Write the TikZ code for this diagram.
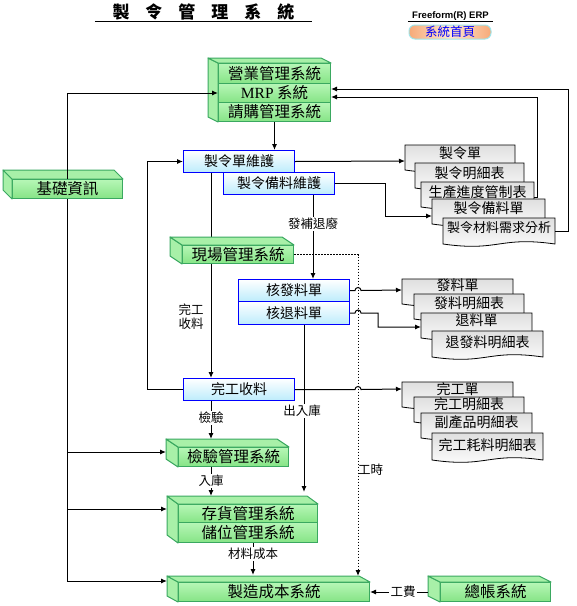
\documentclass[tikz,border=0pt]{standalone}
\usepackage{fontspec}
\setmainfont{Noto Sans CJK TC}
\newfontfamily\serf{Liberation Serif}
\newfontfamily\lsans{Liberation Sans}
\usetikzlibrary{arrows.meta,calc,backgrounds}
\definecolor{gA}{RGB}{182,246,182}
\definecolor{gB}{RGB}{134,228,134}
\definecolor{gS}{RGB}{168,240,168}
\definecolor{gD}{RGB}{58,168,96}
\definecolor{bA}{RGB}{188,236,252}
\definecolor{oA}{RGB}{247,170,120}
\definecolor{oB}{RGB}{255,230,208}
\definecolor{cyB}{RGB}{160,228,232}
\tikzset{
 gface/.style={draw=gD, top color=gA, bottom color=gB, anchor=north west, inner sep=0pt, font=\fontsize{15.5}{17}\selectfont, line width=1pt},
 gside/.style={draw=gD, fill=gS, line width=1pt, line join=round},
 bface/.style={draw=blue, top color=white, bottom color=bA, anchor=north west, inner sep=0pt, font=\fontsize{14}{16}\selectfont, line width=1pt},
 docpath/.style={draw=black, top color=gray!25, bottom color=white, line width=0.8pt},
 doctxt/.style={inner sep=0pt, font=\fontsize{14}{16}\selectfont},
 lbl/.style={fill=white, inner sep=1.5pt, font=\fontsize{12.5}{14}\selectfont},
 conn/.style={line width=1pt, -{Latex[length=6pt,width=5pt]}},
}
\newcommand{\gbevel}[4]{%
 \draw[gside] (#1.north west) -- ++(-#3,-#4) -- ($(#2.south west)+(-#3,-#4)$) -- (#2.south west) -- cycle;
 \draw[gside] (#1.north west) -- ++(-#3,-#4) -- ($(#1.north east)+(-#3,-#4)$) -- (#1.north east) -- cycle;
}
\newcommand{\mkdoc}[7]{%
 \pgfmathsetmacro\dw{#4-#2}%
 \pgfmathsetmacro\db{#3+#5}%
 \pgfmathsetmacro\dm{(#2+#4)/2}%
 \path[docpath] (#2,#3) -- (#4,#3) -- (#4,\db) .. controls (\dm,\db-8) and (\dm,\db+8) .. (#2,\db) -- cycle;
 \node[doctxt, minimum width=\dw pt] (#1) at (\dm,#3+#6) {#7};
}
\begin{document}
\begin{tikzpicture}[x=1pt,y=-1pt]
\useasboundingbox (0,0) rectangle (577,606);
% header
\node[font=\fontsize{17}{20}\selectfont\bfseries, minimum width=217pt, minimum height=18pt, inner sep=0pt] (title) at (203.5,12) {製\hspace{16pt}令\hspace{16pt}管\hspace{16pt}理\hspace{16pt}系\hspace{16pt}統};
\draw[line width=1pt] (title.south west) -- (title.south east);
\node[font=\lsans\bfseries\fontsize{9.5}{11}\selectfont, minimum width=85pt, minimum height=11pt, inner sep=0pt] (ff) at (450.5,16) {Freeform(R) ERP};
\draw[line width=1pt] (ff.south west) -- (ff.south east);
\node[rounded corners=6pt, minimum width=82pt, minimum height=14pt, inner sep=0pt, draw=cyB, line width=1pt, left color=oA, right color=oA, middle color=oB, text=blue, font=\fontsize{12.5}{14}\selectfont] (home) at (450,32) {系統首頁};

% green boxes
\node[gface, minimum width=112pt, minimum height=20pt] (sys1) at (218,63) {營業管理系統};
\node[gface, minimum width=112pt, minimum height=19pt] (mrp) at (218,83) {{\serf MRP} 系統};
\node[gface, minimum width=112pt, minimum height=19pt] (sys3) at (218,102) {請購管理系統};
\gbevel{sys1}{sys3}{10}{5}
\node[gface, minimum width=110pt, minimum height=19pt] (base) at (12,179) {基礎資訊};
\gbevel{base}{base}{9}{9}
\node[gface, minimum width=111pt, minimum height=18pt] (shop) at (182,245) {現場管理系統};
\gbevel{shop}{shop}{12}{8}
\node[gface, minimum width=110pt, minimum height=19pt] (qc) at (178,447) {檢驗管理系統};
\gbevel{qc}{qc}{12}{8}
\node[gface, minimum width=139pt, minimum height=18pt] (inv) at (178,504) {存貨管理系統};
\node[gface, minimum width=139pt, minimum height=20pt] (loc) at (178,522) {儲位管理系統};
\gbevel{inv}{loc}{11}{8}
\node[gface, minimum width=191pt, minimum height=19pt] (cost) at (178,582) {製造成本系統};
\gbevel{cost}{cost}{11}{6}
\node[gface, minimum width=110pt, minimum height=19pt] (gl) at (440,582) {總帳系統};
\gbevel{gl}{gl}{12}{6}

% blue boxes
\node[bface, minimum width=111pt, minimum height=22pt] (wo) at (183,150) {製令單維護};
\node[bface, minimum width=111pt, minimum height=22pt] (wm) at (223,172) {製令備料維護};
\node[bface, minimum width=111pt, minimum height=22pt] (iss) at (238,279) {核發料單};
\node[bface, minimum width=111pt, minimum height=23pt] (ret) at (238,301) {核退料單};
\node[bface, minimum width=111pt, minimum height=22pt] (fin) at (183,378) {完工收料};

% documents
\mkdoc{d1}{405}{145}{515}{25}{8}{製令單}
\mkdoc{d2}{415}{163}{524}{25}{10}{製令明細表}
\mkdoc{d3}{421}{182}{534}{25}{10}{生產進度管制表}
\mkdoc{d4}{432}{199}{545}{25}{9}{製令備料單}
\mkdoc{d5}{443}{218}{555}{26}{10}{{\fontsize{13}{15}\selectfont 製令材料需求分析}}
\mkdoc{e1}{402}{279}{513}{25}{6}{發料單}
\mkdoc{e2}{414}{294}{524}{25}{9}{發料明細表}
\mkdoc{e3}{421}{313}{532}{25}{7}{退料單}
\mkdoc{e4}{432}{331}{543}{26}{11}{退發料明細表}
\mkdoc{f1}{402}{382}{513}{25}{7}{完工單}
\mkdoc{f2}{414}{397}{524}{25}{7}{完工明細表}
\mkdoc{f3}{421}{413}{532}{25}{9}{副產品明細表}
\mkdoc{f4}{432}{433}{543}{27}{12}{完工耗料明細表}

% coordinates
\coordinate (hopc) at (358,0);
\coordinate (dotx) at (358,0);
\coordinate (d1in) at (405,161);
\coordinate (d4in) at (432,216);
\coordinate (d3out) at (534,197);
\coordinate (d5out) at (555,231);
\coordinate (e1in) at (402,290);
\coordinate (e3in) at (421,327);
\coordinate (f1in) at (402,389);

% connectors
\draw[conn] (base.north) |- (mrp.west);
\draw[conn] (base.south) |- ($(qc.north west)+(-12,5)$);
\draw[conn] (base.south) |- ($(inv.north west)+(-11,5)$);
\draw[conn] (base.south) |- ($(cost.north west)+(-11,-1)$);
\draw[conn] (sys3.south) -- (sys3.south |- wo.north);
\draw[conn] (wo.east) -- (d1in);
\draw[conn] (wm.east) -- ++(50,0) |- (d4in);
\draw[conn] (d3out) -- ++(3,0) |- ($(mrp.east)+(0,4)$);
\draw[conn] (d5out) -- ++(13,0) |- ($(mrp.east)+(0,-4)$);
\draw[conn] (fin.west) -- ++(-36,0) |- (wo.west);
\begin{scope}[on background layer]
 \draw[conn] ($(wo.south west)+(28,0)$) coordinate (v1) -- (v1 |- fin.north);
\end{scope}
\draw[conn] ($(wm.south west)+(90,0)$) coordinate (v2) -- (v2 |- iss.north);
\draw[line width=1pt, dash pattern=on 1.5pt off 1.5pt, -{Latex[length=6pt,width=5pt]}] (shop.east) -- (shop.east -| dotx) -- ($(dotx |- cost.north)+(0,-6)$);
\draw[conn] (iss.east) -- ($(iss.east -| hopc)+(-3,0)$) arc[start angle=180,end angle=360,radius=3] -- (e1in);
\draw[conn] (ret.east) -- ($(ret.east -| hopc)+(-3,0)$) arc[start angle=180,end angle=360,radius=3] -- ++(17,0) |- (e3in);
\draw[conn] (fin.east) -- ($(fin.east -| hopc)+(-3,0)$) arc[start angle=180,end angle=360,radius=3] -- (f1in);
\draw[conn] ($(ret.south west)+(66,0)$) coordinate (v3) -- ($(v3 |- inv.north)+(0,-12)$);
\draw[conn] ($(fin.south west)+(28,0)$) coordinate (v4) -- ($(v4 |- qc.north)+(0,-8)$);
\draw[conn] ($(qc.south west)+(33,0)$) coordinate (v5) -- ($(v5 |- inv.north)+(0,-8)$);
\draw[conn] ($(loc.south west)+(75,0)$) coordinate (v6) -- ($(v6 |- cost.north)+(0,-7)$);
\draw[conn] ($(gl.west)+(-12,0)$) -- (cost.east);

% labels
\node[lbl] (lb1) at (313,224) {發補退廢};
\node[lbl] (lb2) at (302,411) {出入庫};
\node[lbl] (lb3) at (211,418) {檢驗};
\node[lbl] (lb4) at (211,481) {入庫};
\node[lbl] (lb5) at (253,554) {材料成本};
\node[lbl] (lb6) at (403,592) {工費};
\node[lbl, fill=none, anchor=west, inner sep=0pt] (lb7) at (358,470) {工時};
\node[lbl, fill=none, align=center, inner sep=0pt] (lb8) at (191,317) {完工\\收料};
\end{tikzpicture}
\end{document}
